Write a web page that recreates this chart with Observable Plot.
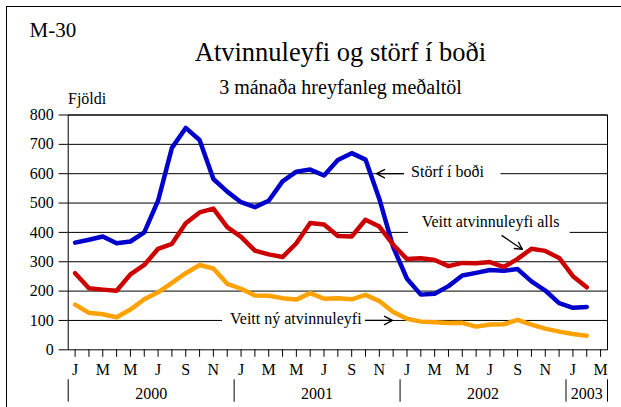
<!DOCTYPE html>
<html><head><meta charset="utf-8">
<script src="https://cdn.jsdelivr.net/npm/d3@7"></script>
<script src="https://cdn.jsdelivr.net/npm/@observablehq/plot@0.6"></script>
<style>
body{margin:0;background:#fff}
#wrap{position:relative;width:621px;height:407px;overflow:hidden;font-family:"Liberation Serif","Times New Roman",serif}
#frame{position:absolute;left:6px;top:6px;width:700px;height:500px;border-left:1.5px solid #000;border-top:1.5px solid #000}
#wrap svg{position:absolute;left:0;top:0;font-family:"Liberation Serif","Times New Roman",serif}
</style></head><body><div id="wrap"><div id="frame"></div></div>
<script>
// Months Jan 2000 .. Feb 2003 (index 0..37)
const months = ["2000-01","2000-02","2000-03","2000-04","2000-05","2000-06","2000-07","2000-08","2000-09","2000-10","2000-11","2000-12",
"2001-01","2001-02","2001-03","2001-04","2001-05","2001-06","2001-07","2001-08","2001-09","2001-10","2001-11","2001-12",
"2002-01","2002-02","2002-03","2002-04","2002-05","2002-06","2002-07","2002-08","2002-09","2002-10","2002-11","2002-12",
"2003-01","2003-02"];
const storfIBodi = [365,375,386,363,369,400,508,688,756,715,582,539,503,486,508,574,607,614,594,647,670,648,514,350,242,188,191,217,253,262,272,269,275,233,202,159,143,146];
const veittAlls = [261,210,205,201,257,289,344,361,431,468,481,418,385,338,325,316,363,432,427,388,386,443,420,358,309,312,306,285,296,295,299,282,310,344,337,313,251,213];
const veittNy = [154,126,121,111,137,172,196,228,261,289,277,225,208,185,184,176,171,193,174,176,172,187,166,129,106,96,94,91,92,79,86,87,102,86,72,62,54,48];
const monthLetters = ["J","F","M","A","M","J","J","A","S","O","N","D"];
const yTicks = [0,100,200,300,400,500,600,700,800];
const gridTicks = [100,200,300,400,500,600,700,800];
const years = ["2000","2001","2002","2003"];
const yearCenters = [5.5,17.5,29.5,37];
const yearSeparators = [-0.5,11.5,23.5,35.5,38.5];
const axisTicks = d3.range(39); // Jan 2000 .. Mar 2003

const toRows = vals => vals.map((v,i)=>({i, m: months[i], v}));

// Label annotations (data coordinates)
const labels = [
  {x: 26.93, y: 600, text: "Störf í boði"},
  {x: 30.04, y: 430, text: "Veitt atvinnuleyfi alls"},
  {x: 15.96, y: 100, text: "Veitt ný atvinnuleyfi"}
];
const gaps = [
  {x1: 23.8, x2: 30.8, y1: 575, y2: 625},
  {x1: 24.1, x2: 35.8, y1: 390, y2: 470},
  {x1: 10.66, x2: 21.0, y1: 75, y2: 125}
];
const arrows = [
  {x1: 23.75, y1: 600, x2: 21.8, y2: 600},
  {x1: 30.87, y1: 389, x2: 32.35, y2: 342},
  {x1: 21.0, y1: 100, x2: 22.95, y2: 100}
];

const serif = '"Liberation Serif","Times New Roman",serif';
const chart = Plot.plot({
  width: 621, height: 407,
  marginLeft: 67.7, marginRight: 14, marginTop: 114.5, marginBottom: 57.7,
  style: {fontFamily: serif, fontSize: "16px", background: "transparent", color: "#000"},
  x: {type: "linear", domain: [-0.5, 38.5]},
  y: {domain: [0, 800]},
  marks: [
    Plot.gridY(gridTicks, {stroke: "#000", strokeOpacity: 1, strokeWidth: 1}),
    Plot.rect(gaps, {x1: "x1", x2: "x2", y1: "y1", y2: "y2", fill: "white"}),
    Plot.frame({stroke: "#000", strokeWidth: 1}),
    Plot.axisY(yTicks, {tickSize: 9, tickPadding: 5.5, fontSize: 16, fontFamily: serif, label: null}),
    Plot.axisX(axisTicks, {tickSize: 7.5, tickPadding: 6.8, fontSize: 16, fontFamily: serif, label: null,
      tickFormat: i => i % 2 === 0 ? monthLetters[i % 12] : ""}),
    Plot.ruleX(yearSeparators, {x: d => d, stroke: "#000", strokeWidth: 1, insetTop: 264.8, insetBottom: -52.4}),
    Plot.text(years, {x: (d,i) => yearCenters[i], text: d => d, frameAnchor: "bottom", dy: 44, lineAnchor: "middle", fontSize: 16, fontFamily: serif}),
    Plot.line(toRows(veittNy), {x: "i", y: "v", stroke: "#ffa200", strokeWidth: 4.5, strokeLinejoin: "round", strokeLinecap: "round"}),
    Plot.line(toRows(storfIBodi), {x: "i", y: "v", stroke: "#0000cc", strokeWidth: 4.5, strokeLinejoin: "round", strokeLinecap: "round"}),
    Plot.line(toRows(veittAlls), {x: "i", y: "v", stroke: "#cc0000", strokeWidth: 4.5, strokeLinejoin: "round", strokeLinecap: "round"}),
    Plot.arrow(arrows, {x1: "x1", y1: "y1", x2: "x2", y2: "y2", stroke: "#000", strokeWidth: 1.3, headLength: 11, headAngle: 55}),
    Plot.text(labels, {x: "x", y: "y", text: "text", lineAnchor: "middle", dy: -1.5, fontSize: 16, fontFamily: serif, fill: "#000"})
  ]
});
const svg = d3.select(chart);
const addText = (x, y, size, anchor, str) => svg.append("text").attr("x", x).attr("y", y)
  .attr("font-size", size).attr("font-family", serif).attr("text-anchor", anchor).attr("fill", "#000").text(str);
addText(29.5, 37, 21, "start", "M-30");
addText(340.5, 61, 26.5, "middle", "Atvinnuleyfi og störf í boði");
addText(340.5, 94, 20, "middle", "3 mánaða hreyfanleg meðaltöl");
addText(68, 104, 16, "start", "Fjöldi");
document.getElementById("wrap").appendChild(chart);
</script></body></html>
